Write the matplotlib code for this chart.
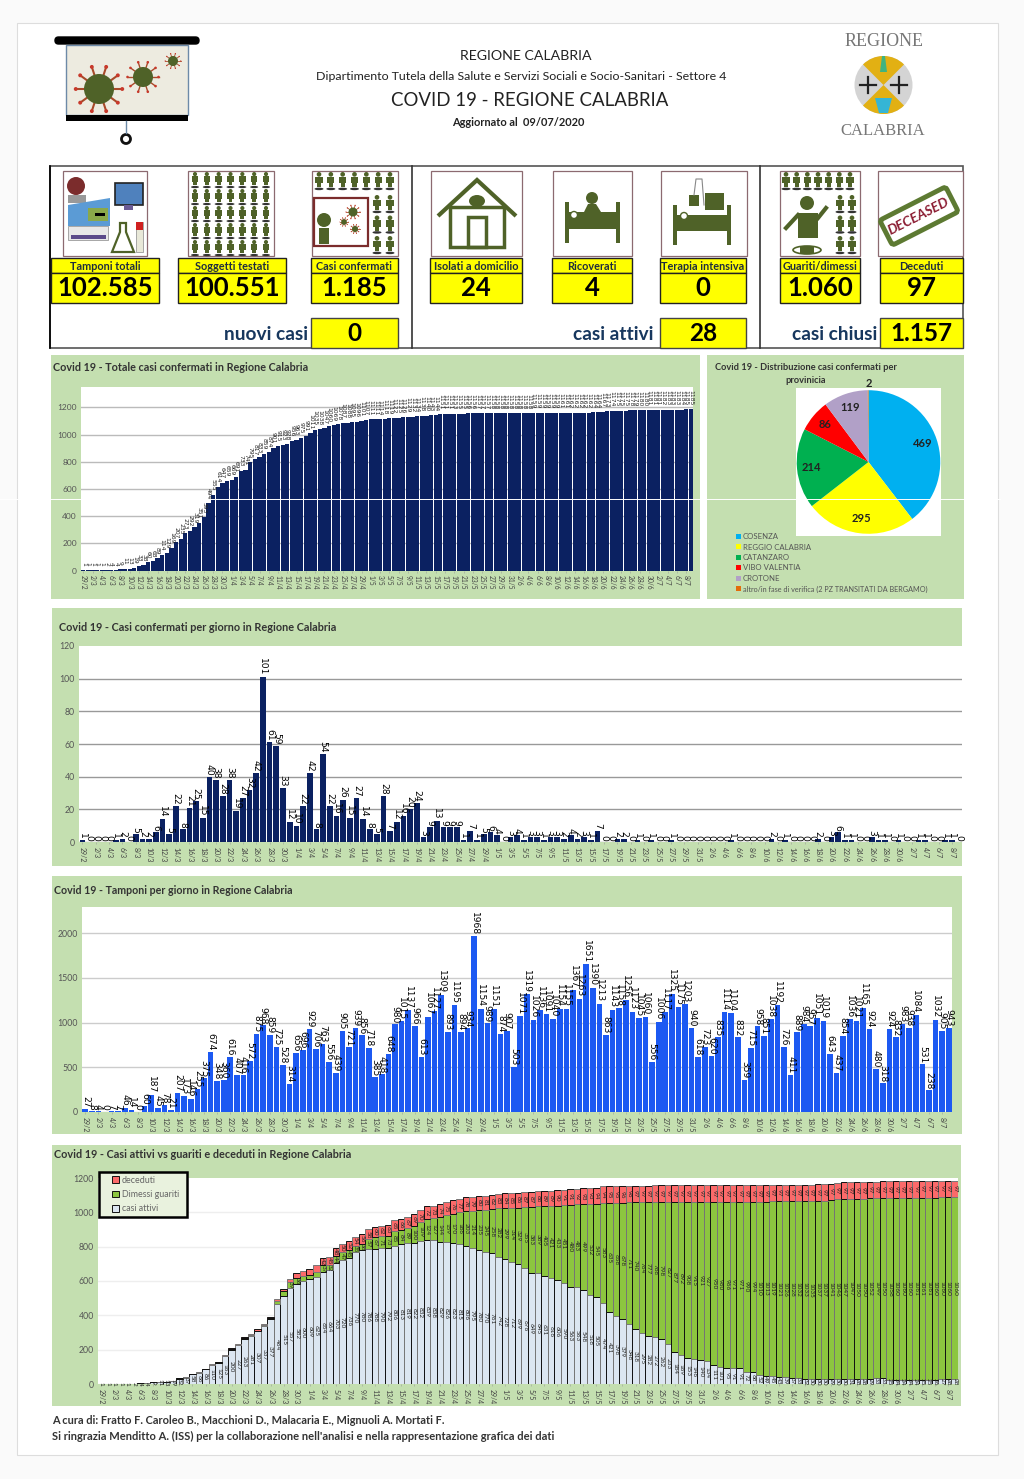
import numpy as np
import matplotlib
matplotlib.use('Agg')
import matplotlib.pyplot as plt
from matplotlib.lines import Line2D
from matplotlib.patches import Rectangle, Circle, Ellipse, Polygon, FancyBboxPatch, Wedge

plt.rcParams['font.family'] = ['Lato', 'DejaVu Sans']

W, H = 1024, 1479

# date sull'asse x (una ogni due barre)
giorni = ['29/2', '2/3', '4/3', '6/3', '8/3', '10/3', '12/3', '14/3', '16/3', '18/3', '20/3', '22/3', '24/3',
          '26/3', '28/3', '30/3', '1/4', '3/4', '5/4', '7/4', '9/4', '11/4', '13/4', '15/4', '17/4', '19/4',
          '21/4', '23/4', '25/4', '27/4', '29/4', '1/5', '3/5', '5/5', '7/5', '9/5', '11/5', '13/5', '15/5',
          '17/5', '19/5', '21/5', '23/5', '25/5', '27/5', '29/5', '31/5', '2/6', '4/6', '6/6', '8/6', '10/6',
          '12/6', '14/6', '16/6', '18/6', '20/6', '22/6', '24/6', '26/6', '28/6', '30/6', '2/7', '4/7', '6/7', '8/7']

casi_giorno = [1, 0, 0, 0, 0, 1, 2, 0, 5, 2, 2, 6, 14, 5, 22, 8, 21, 25, 15, 40, 38, 28, 38, 19, 27, 32, 42, 101,
               61, 59, 33, 12, 10, 22, 42, 8, 54, 22, 16, 26, 15, 27, 14, 8, 5, 28, 7, 12, 16, 20, 24, 3, 9, 13,
               9, 9, 9, 1, 7, 1, 5, 6, 4, 0, 3, 4, 1, 3, 3, 1, 3, 3, 2, 4, 2, 3, 1, 7, 0, 0, 2, 2, 0, 1, 0, 1, 0,
               0, 1, 0, 0, 0, 0, 0, 0, 0, 0, 1, 0, 0, 0, 0, 0, 2, 0, 1, 0, 0, 0, 0, 2, 0, 3, 6, 1, 1, 0, 0, 3, 1,
               1, 0, 1, 0, 0, 1, 1, 0, 0, 1, 1, 0]

totale_casi = [1, 1, 1, 1, 1, 2, 4, 4, 9, 11, 13, 19, 33, 38, 60, 68, 89, 114, 129, 169, 207, 235, 273, 292, 319,
               351, 393, 494, 555, 614, 647, 659, 669, 691, 733, 741, 795, 817, 833, 859, 874, 901, 915, 923, 928,
               956, 963, 975, 991, 1011, 1035, 1038, 1047, 1060, 1069, 1078, 1087, 1088, 1095, 1096, 1101, 1107,
               1111, 1111, 1114, 1118, 1119, 1122, 1125, 1126, 1129, 1132, 1134, 1138, 1140, 1143, 1144, 1151,
               1151, 1151, 1153, 1155, 1155, 1156, 1156, 1157, 1157, 1157, 1158, 1158, 1158, 1158, 1158, 1158,
               1158, 1158, 1158, 1159, 1159, 1159, 1159, 1159, 1159, 1161, 1161, 1162, 1162, 1162, 1162, 1162,
               1164, 1164, 1167, 1173, 1174, 1175, 1175, 1175, 1178, 1179, 1180, 1180, 1181, 1181, 1181, 1182,
               1183, 1183, 1183, 1184, 1185, 1185]

tamponi_giorno = [27, 8, 4, 0, 7, 7, 46, 14, 0, 60, 187, 45, 78, 21, 207, 173, 146, 255, 375, 674, 348, 360, 616,
                  407, 416, 572, 875, 968, 859, 725, 528, 314, 656, 696, 929, 706, 763, 556, 439, 905, 721, 939,
                  856, 718, 385, 418, 648, 980, 1015, 1137, 966, 613, 1067, 1127, 1309, 893, 1195, 894, 934, 1968,
                  1154, 989, 1151, 874, 907, 503, 1071, 1319, 1026, 1136, 1091, 1040, 1154, 1155, 1367, 1263, 1651,
                  1390, 1213, 863, 1143, 1158, 1256, 1123, 1045, 1060, 556, 1006, 1117, 1325, 1175, 1203, 940, 618,
                  723, 620, 835, 1114, 1104, 832, 359, 715, 958, 851, 1038, 1192, 726, 411, 889, 984, 957, 1051,
                  1019, 643, 437, 854, 1036, 1021, 1165, 924, 480, 318, 924, 832, 983, 938, 1084, 531, 238, 1032,
                  905, 943]

casi_attivi = [1, 1, 1, 1, 1, 2, 4, 4, 9, 11, 13, 19, 32, 37, 58, 66, 86, 110, 125, 163, 200, 227, 263, 281, 307,
               337, 377, 464, 515, 557, 582, 600, 609, 625, 654, 664, 703, 720, 736, 770, 780, 786, 788, 790, 792,
               806, 813, 819, 822, 832, 839, 838, 829, 826, 823, 815, 806, 795, 780, 770, 761, 742, 728, 712, 699,
               676, 649, 645, 631, 616, 606, 590, 563, 563, 548, 518, 505, 474, 421, 398, 379, 348, 318, 295, 282,
               272, 262, 233, 184, 169, 153, 146, 140, 134, 111, 101, 95, 91, 91, 72, 68, 52, 49, 45, 43, 39, 37,
               33, 32, 30, 30, 30, 29, 30, 30, 31, 28, 28, 29, 33, 33, 25, 24, 24, 24, 24, 25, 25, 26, 27, 28, 28]

deceduti = [0, 0, 0, 0, 0, 0, 0, 0, 0, 0, 0, 0, 0, 0, 1, 1, 2, 2, 3, 3, 5, 6, 7, 8, 9, 10, 11, 13, 15, 18, 29, 31,
            33, 36, 42, 45, 48, 50, 52, 54, 56, 58, 60, 62, 63, 65, 66, 67, 69, 70, 72, 73, 74, 75, 76, 77, 78, 79,
            80, 81, 82, 83, 84, 85, 86, 87, 87, 88, 89, 89, 90, 91, 91, 92, 93, 93, 94, 94, 95, 95, 96, 96, 97, 97,
            97, 97, 97, 97, 97, 97, 97, 97, 97, 97, 97, 97, 97, 97, 97, 97, 97, 97, 97, 97, 97, 97, 97, 97, 97, 97,
            97, 97, 97, 97, 97, 97, 97, 97, 97, 97, 97, 97, 97, 97, 97, 97, 97, 97, 97, 97, 97, 97]

# quello che resta del totale sono i dimessi/guariti
dimessi = [t - d - a for t, d, a in zip(totale_casi, deceduti, casi_attivi)]

province = ['COSENZA', 'REGGIO CALABRIA', 'CATANZARO', 'VIBO VALENTIA', 'CROTONE',
            'altro/in fase di verifica (2 PZ TRANSITATI DA BERGAMO)']
casi_province = [469, 295, 214, 86, 119, 2]
colori_province = ['#00b0f0', '#ffff00', '#00b050', '#ff0000', '#b1a0c7', '#e36c0a']

# riquadri: etichetta, valore, x icona, x box
riquadri = [('Tamponi totali', '102.585', 63, 147, 51, 159),
            ('Soggetti testati', '100.551', 188, 274, 178, 286),
            ('Casi confermati', '1.185', 312, 398, 311, 398),
            ('Isolati a domicilio', '24', 431, 522, 430, 522),
            ('Ricoverati', '4', 553, 632, 552, 632),
            ('Terapia intensiva', '0', 661, 747, 660, 746),
            ('Guariti/dimessi', '1.060', 780, 860, 780, 860),
            ('Deceduti', '97', 878, 963, 880, 963)]
sintesi = [('nuovi casi', '0', 308, 311, 398), ('casi attivi', '28', 653, 660, 746), ('casi chiusi', '1.157', 877, 880, 963)]

BLU = '#0b2161'
BLU2 = '#1c59f2'
VERDE = '#c4dfb0'
OLIVA = '#4f6228'
x = np.arange(len(casi_giorno))

fig = plt.figure(figsize=(W / 100, H / 100), dpi=100, facecolor='#fafafa')


def axes_px(x0, y0, x1, y1, **kw):
    return fig.add_axes([x0 / W, 1 - y1 / H, (x1 - x0) / W, (y1 - y0) / H], **kw)


bg = axes_px(0, 0, W, H)
bg.set_xlim(0, W)
bg.set_ylim(H, 0)
bg.axis('off')
bg.add_patch(Rectangle((17, 23), 981, 1432, fc='white', ec='#dddddd', lw=0.8))


def txt(x_, y_, s, size, ha='center', weight='normal', color='#222222', **kw):
    bg.text(x_, y_, s, fontsize=size, ha=ha, va='center', fontweight=weight, color=color, **kw)


def virus(cx, cy, r):
    for a in np.linspace(0, 2 * np.pi, 11)[:-1]:
        x1, y1 = cx + 1.55 * r * np.cos(a), cy + 1.55 * r * np.sin(a)
        bg.plot([cx, x1], [cy, y1], color='#a84a2a', lw=max(r / 10, 0.6), zorder=3)
        bg.add_patch(Circle((x1, y1), r * 0.13, fc='#c8392b', ec='none', zorder=3))
    bg.add_patch(Circle((cx, cy), r, fc=OLIVA, ec='none', zorder=4))


def omino(cx, y0, h):
    bg.add_patch(Circle((cx, y0 + h * 0.13), h * 0.13, fc=OLIVA, ec='none'))
    bg.add_patch(Rectangle((cx - h * 0.2, y0 + h * 0.26), h * 0.4, h * 0.36, fc=OLIVA, ec='none'))
    bg.add_patch(Rectangle((cx - h * 0.12, y0 + h * 0.62), h * 0.24, h * 0.22, fc=OLIVA, ec='none'))
    bg.add_patch(Ellipse((cx, y0 + h * 0.94), h * 0.5, h * 0.14, fc='#333333', ec='none'))


def letto(x0, y0, w, h):
    bg.add_patch(Rectangle((x0, y0), 4, h, fc=OLIVA, ec='none'))
    bg.add_patch(Rectangle((x0 + w - 4, y0), 4, h, fc=OLIVA, ec='none'))
    bg.add_patch(Rectangle((x0, y0 + h * 0.25), w, h * 0.4, fc=OLIVA, ec='none'))


# schermo con i virus
bg.add_patch(FancyBboxPatch((55, 37), 144, 7, boxstyle='round,pad=0,rounding_size=3.5', fc='black', ec='black', lw=1))
bg.add_patch(Rectangle((66, 45), 122, 70, fc='#edebe0', ec='#6d8aa8', lw=1))
bg.add_patch(Rectangle((66, 115), 122, 6, fc='black', ec='none'))
bg.plot([126, 126], [121, 133], color='#6d8aa8', lw=1)
bg.add_patch(Circle((126, 139), 4.5, fc='white', ec='#111111', lw=2))
virus(99, 89, 15)
virus(143, 77, 10)
virus(173, 61, 5)

txt(526, 55.5, 'REGIONE CALABRIA', 10.2)
txt(521, 76, 'Dipartimento Tutela della Salute e Servizi Sociali e Socio-Sanitari - Settore 4', 8.9)
txt(530, 100.5, 'COVID 19 - REGIONE CALABRIA', 13.4)
txt(518, 122, 'Aggiornato al  09/07/2020', 7.9, weight='bold')

# logo regione
txt(884, 42, 'REGIONE', 13, color='#777777', family='Liberation Serif')
txt(883, 131, 'CALABRIA', 12, color='#777777', family='Liberation Serif')
bg.add_patch(Circle((883.5, 85), 29, fc='#d4d4d4', ec='none'))
bg.add_patch(Wedge((883.5, 85), 29, 225, 315, fc='#e2b013', ec='none'))
bg.add_patch(Wedge((883.5, 85), 29, 45, 135, fc='#e2b013', ec='none'))
bg.add_patch(Polygon([[880, 72], [887, 72], [885, 56], [882, 56]], fc='#3fb37f', ec='none'))
bg.add_patch(Polygon([[875, 98], [892, 98], [888, 113], [879, 113]], fc='#35b5d5', ec='none'))
for cx in (868, 899):
    bg.plot([cx - 8, cx + 8], [85, 85], color='#222222', lw=1.6)
    bg.plot([cx, cx], [77, 93], color='#222222', lw=1.6)

# tabella in alto
bg.add_patch(Rectangle((50, 166), 913, 182, fc='white', ec='#555555', lw=1.2))
bg.plot([50, 50], [166, 348], color='black', lw=1.2)
for xd in (412, 760):
    bg.plot([xd, xd], [166, 348], color='#333333', lw=1.2)

for etich, val, xi0, xi1, xb0, xb1 in riquadri:
    bg.add_patch(Rectangle((xi0, 171), xi1 - xi0, 85, fc='white', ec='#8c6a70', lw=0.9))
    bg.add_patch(Rectangle((xb0, 258), xb1 - xb0, 15, fc='#ffff00', ec='#222222', lw=1))
    bg.add_patch(Rectangle((xb0, 273), xb1 - xb0, 30, fc='#ffff00', ec='#222222', lw=1))
    txt((xb0 + xb1) / 2, 266.5, etich, 7.8, weight='bold', color='#1f2d3d')
    txt((xb0 + xb1) / 2, 287.5, val, 18.5, weight='bold', color='black')

for etich, val, xr, xb0, xb1 in sintesi:
    txt(xr, 335, etich, 13.8, ha='right', weight='bold', color='#17375e')
    bg.add_patch(Rectangle((xb0, 318), xb1 - xb0, 30, fc='#ffff00', ec='#444444', lw=1))
    txt((xb0 + xb1) / 2, 333.5, val, 17.5, weight='bold', color='black')

# icona tamponi
bg.add_patch(Circle((76, 186), 9, fc='#7b2c2c', ec='none'))
bg.add_patch(Rectangle((68, 195), 18, 8, fc='#999999', ec='none'))
bg.add_patch(Polygon([[68, 205], [110, 198], [110, 226], [68, 226]], fc='#5b9bd5', ec='none'))
bg.add_patch(Rectangle((88, 208), 20, 13, fc='#8aa84a', ec='none'))
bg.add_patch(Rectangle((95, 213), 10, 3, fc='black', ec='none'))
bg.add_patch(Rectangle((68, 226), 40, 14, fc='#e8e8e8', ec='#888888', lw=0.5))
bg.add_patch(Rectangle((71, 235), 35, 4, fc='#5b4a8a', ec='none'))
bg.add_patch(Rectangle((115, 183), 28, 22, fc='#4f81bd', ec='#222222', lw=1.2))
bg.add_patch(Rectangle((124, 205), 9, 5, fc='#6b5b95', ec='none'))
bg.add_patch(Polygon([[112, 252], [134, 252], [126, 232], [126, 223], [120, 223], [120, 232]], fc='white', ec=OLIVA, lw=1.6))
bg.add_patch(Rectangle((136, 222), 7, 30, fc='#e8e8d8', ec='#888888', lw=0.5))
bg.add_patch(Rectangle((136, 222), 7, 8, fc='#d02020', ec='none'))

# icona soggetti testati
for cx in np.linspace(195, 266, 7):
    for y0 in np.linspace(172, 240, 5):
        omino(cx, y0, 16)

# icona casi confermati
for cx in np.linspace(319, 390, 7):
    omino(cx, 172, 18)
for cx in (377, 390):
    for y0 in np.linspace(195, 236, 3):
        omino(cx, y0, 18)
bg.add_patch(Rectangle((314, 198), 54, 48, fc='white', ec='#7b2c2c', lw=1.6))
bg.add_patch(Circle((324, 220), 7, fc=OLIVA, ec='none'))
bg.add_patch(Rectangle((319, 228), 10, 16, fc=OLIVA, ec='none'))
virus(353, 212, 4.5)
virus(344, 222, 2.8)
virus(355, 229, 3)

# casa
bg.add_patch(Polygon([[438, 216], [477, 180], [516, 216]], closed=False, fill=False, ec=OLIVA, lw=3))
bg.add_patch(Rectangle((450, 207), 54, 40, fill=False, ec=OLIVA, lw=2.5))
bg.add_patch(Rectangle((468, 217), 18, 30, fill=False, ec=OLIVA, lw=2.5))
bg.add_patch(Ellipse((477, 201), 16, 12, fc=OLIVA, ec='none'))

# ricoverati
letto(565, 202, 55, 41)
bg.add_patch(Circle((592, 198), 6, fc=OLIVA, ec='none'))
bg.add_patch(Polygon([[584, 212], [588, 204], [596, 204], [601, 212]], fc=OLIVA, ec='none'))
bg.add_patch(Circle((574, 215), 3.5, fc='white', ec=OLIVA, lw=1))

# terapia intensiva
letto(673, 205, 58, 40)
bg.add_patch(Circle((684, 216), 3.5, fc='white', ec=OLIVA, lw=1))
bg.add_patch(Rectangle((689, 195), 10, 11, fc=OLIVA, ec='none'))
bg.add_patch(Rectangle((705, 193), 19, 17, fc=OLIVA, ec='none'))
bg.plot([694, 696, 702, 704], [195, 179, 179, 205], color='#888888', lw=0.8)

# guariti
for cx in np.linspace(786, 850, 7):
    omino(cx, 172, 18)
for cx in (840, 852):
    for y0 in np.linspace(195, 236, 3):
        omino(cx, y0, 18)
bg.add_patch(Circle((807, 203), 7, fc=OLIVA, ec='none'))
bg.add_patch(Rectangle((798, 213), 20, 25, fc=OLIVA, ec='none'))
bg.plot([786, 798], [228, 215], color=OLIVA, lw=3)
bg.plot([818, 826], [218, 208], color=OLIVA, lw=3)
bg.add_patch(Ellipse((807, 250), 28, 8, fc='white', ec=OLIVA, lw=1.2))
bg.add_patch(Rectangle((800, 246), 14, 8, fc=OLIVA, ec='none'))

# timbro deceased
stamp = FancyBboxPatch((-37, -14), 74, 28, boxstyle='round,pad=0,rounding_size=3', fc='white', ec='#5d7a32', lw=3.5,
                       transform=matplotlib.transforms.Affine2D().rotate_deg(-27).translate(919, 216) + bg.transData)
bg.add_patch(stamp)
txt(919, 216, 'DECEASED', 10, weight='bold', color='#8b1c32', rotation=27, rotation_mode='anchor', style='italic')

# pannelli verdi
pannelli = [(51, 355, 649, 244), (707, 355, 257, 244), (52, 608, 910, 258), (52, 876, 910, 258), (52, 1145, 909, 261)]
for px_, py_, pw, ph in pannelli:
    bg.add_patch(Rectangle((px_, py_), pw, ph, fc=VERDE, ec='none'))
txt(53, 367.5, 'Covid 19 - Totale casi confermati in Regione Calabria', 7.75, ha='left', weight='bold', color='#333333')
txt(806, 367.5, 'Covid 19 - Distribuzione casi confermati per', 6.7, weight='bold', color='#333333')
txt(806, 380.5, 'provinicia', 6.7, weight='bold', color='#333333')
txt(59, 627.5, 'Covid 19 - Casi confermati per giorno in Regione Calabria', 7.8, ha='left', weight='bold', color='#333333')
txt(54, 891, 'Covid 19 - Tamponi per giorno in Regione Calabria', 7.7, ha='left', weight='bold', color='#333333')
txt(54, 1154.5, 'Covid 19 - Casi attivi vs guariti e deceduti in Regione Calabria', 7.8, ha='left', weight='bold', color='#333333')

txt(52, 1420, 'A cura di: Fratto F. Caroleo B., Macchioni D., Malacaria E., Mignuoli A. Mortati F.', 7.9, ha='left', weight='bold', color='#333333')
txt(52, 1436, "Si ringrazia Menditto A. (ISS) per la collaborazione nell'analisi e nella rappresentazione grafica dei dati",
    8, ha='left', weight='bold', color='#333333')


def stile(ax, yticks, griglia='#bbbbbb', etich_x=5, etich_y=6.3):
    ax.set_xlim(-0.5, len(x) - 0.5)
    ax.set_yticks(yticks)
    ax.set_xticks(x[::2])
    ax.set_xticklabels(giorni, rotation=270, fontsize=etich_x, color='#444444')
    ax.tick_params(axis='y', length=0, labelsize=etich_y, labelcolor='#555555', pad=3)
    ax.tick_params(axis='x', length=1.5, width=0.4, color='#999999', pad=2)
    ax.grid(axis='y', color=griglia, lw=1)
    ax.set_axisbelow(True)
    for s in ax.spines.values():
        s.set_visible(False)


def etichette(ax, xs, valori, size, colore='black', off=1.0):
    for xi, v in zip(xs, valori):
        ax.annotate(str(v), (xi, v), xytext=(0, off), textcoords='offset points', rotation=270, ha='center',
                    va='bottom', fontsize=size, color=colore, family='DejaVu Sans')


# totale casi confermati
ax1 = axes_px(81, 387, 693, 570.5)
ax1.bar(x, totale_casi, width=0.94, color=BLU)
ax1.set_ylim(0, 1350)
stile(ax1, range(0, 1201, 200), etich_x=4.8, etich_y=6)
etichette(ax1, x, totale_casi, 4.3, '#222222', off=3)

# torta province
ax_pie = axes_px(796, 388, 941, 536)
ax_pie.set_facecolor('white')
ax_pie.patch.set_visible(True)
wedges, testi = ax_pie.pie(casi_province, colors=colori_province, startangle=90, counterclock=False, radius=1.0,
                           labels=[str(v) for v in casi_province], labeldistance=0.8,
                           textprops={'fontsize': 8, 'fontweight': 'bold', 'color': '#222222'})
for t in testi:
    t.set_ha('center')
    t.set_va('center')
testi[-1].set_position((0, 1.09))
ax_pie.set_xlim(-1.01, 1.01)
ax_pie.set_ylim(-1.03, 1.03)
ax_pie.set_frame_on(True)
for s in ax_pie.spines.values():
    s.set_visible(False)
for i, (nome, col) in enumerate(zip(province, colori_province)):
    yl = 536 + i * 10.5
    bg.add_patch(Rectangle((736, yl - 2.5), 5, 5, fc=col, ec='none'))
    txt(743, yl + 0.5, nome, 5.6 if i < 5 else 5.2, ha='left', color='#555555')

# casi per giorno
ax2 = axes_px(79, 646, 962, 842)
ax2.bar(x, casi_giorno, width=0.85, color=BLU)
ax2.set_ylim(0, 120)
stile(ax2, range(0, 121, 20), griglia='#999999')
ax2.yaxis.get_gridlines()[-1].set_visible(False)
etichette(ax2, x, casi_giorno, 6.6)

# tamponi per giorno
ax3 = axes_px(82, 907, 952, 1111.7)
ax3.bar(x, tamponi_giorno, width=0.85, color=BLU2)
ax3.set_ylim(0, 2295)
stile(ax3, range(0, 2001, 500), griglia='#cccccc')
etichette(ax3, x, tamponi_giorno, 6.6)

# attivi, guariti, deceduti: i bordi alternati come nell'immagine
bordi = ['#111111', '#777777'] * (len(x) // 2)
ax4 = axes_px(98, 1178, 958, 1384)
ba = ax4.bar(x, casi_attivi, width=1, color='#dce6f1', edgecolor=bordi, lw=0.7)
bd = ax4.bar(x, dimessi, width=1, bottom=casi_attivi, color='#8cc63f', edgecolor=bordi, lw=0.7)
base_dec = np.array(casi_attivi) + np.array(dimessi)
bm = ax4.bar(x, deceduti, width=1, bottom=base_dec, color='#fb6a6a', edgecolor=bordi, lw=0.7)
ax4.set_ylim(0, 1200)
stile(ax4, range(0, 1201, 200), griglia='#eeeeee')
ax4.yaxis.get_gridlines()[-1].set_visible(False)
for i in x:
    ax4.text(i, casi_attivi[i] / 2, str(casi_attivi[i]), rotation=270, fontsize=4.6, ha='center', va='center', color='#222222')
    if dimessi[i] > 30:
        ax4.text(i, casi_attivi[i] + dimessi[i] / 2, str(dimessi[i]), rotation=270, fontsize=4.6, ha='center', va='center', color='#222222')
    if deceduti[i] > 40:
        ax4.text(i, base_dec[i] + deceduti[i] / 2, str(deceduti[i]), rotation=270, fontsize=4.6, ha='center', va='center', color='#222222')
ax4.add_patch(Rectangle((99 / W, 1 - 1217 / H), 88 / W, 45 / H, transform=fig.transFigure, fc='#e9f2de', ec='black',
                        lw=1.8, clip_on=False, zorder=15))
leg = ax4.legend([bm, bd, ba], ['deceduti', 'Dimessi guariti', 'casi attivi'], loc='upper left',
                 bbox_to_anchor=(110 / W, 1 - 1174 / H), bbox_transform=fig.transFigure, fontsize=6.4, labelcolor='#666666',
                 frameon=False, handlelength=0.8, handleheight=0.8, handletextpad=0.3, labelspacing=0.6, borderpad=0.2,
                 borderaxespad=0)
leg.set_zorder(20)

# riga bianca della scansione
fig.add_artist(Line2D([0, 1000 / W], [1 - 499 / H, 1 - 499 / H], color='white', lw=0.7, zorder=50))

fig.savefig('out.png', dpi=100, facecolor=fig.get_facecolor())
